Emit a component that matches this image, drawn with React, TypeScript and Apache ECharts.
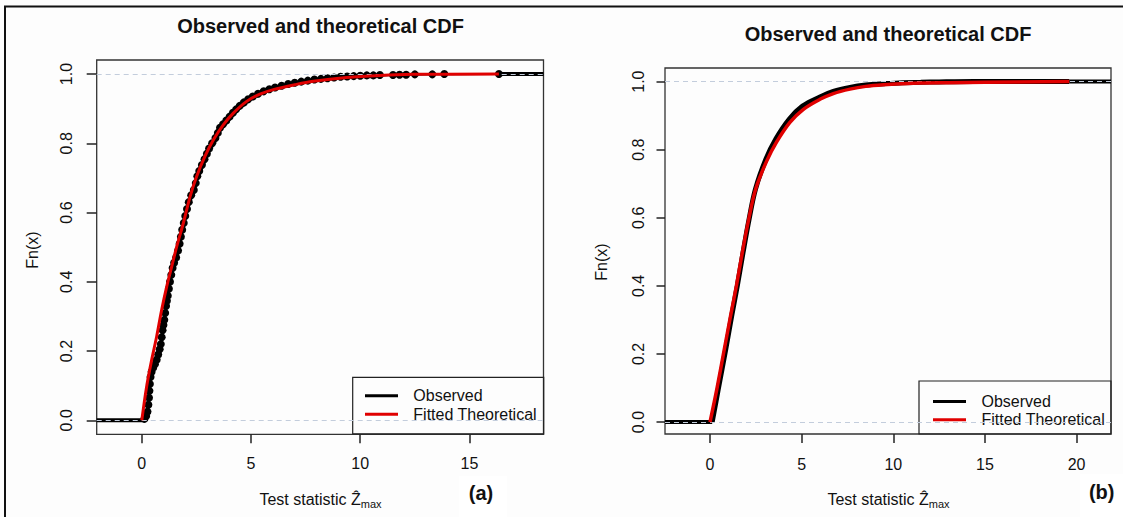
import React, { useEffect, useRef } from "react";
import * as echarts from "echarts";

// ---------- data ----------
const titleText = "Observed and theoretical CDF";
const legendNames = ["Observed", "Fitted Theoretical"];
const xTicksA = [0, 5, 10, 15];
const xTicksB = [0, 5, 10, 15, 20];
const yTicks = [0, 0.2, 0.4, 0.6, 0.8, 1.0];
const xRangeA = [-2.065, 18.39];
const yRangeA = [-0.0405, 1.0405];
const xRangeB = [-2.455, 21.88];
const yRangeB = [-0.035, 1.04];

// panel (a): empirical CDF points (x, Fn(x))
const observedA: [number, number][] = [
  [0.12, 0.004], [0.2, 0.012], [0.26, 0.025], [0.3, 0.045], [0.33, 0.065], [0.35, 0.085],
  [0.37, 0.105], [0.4, 0.125], [0.45, 0.14], [0.52, 0.152], [0.6, 0.162], [0.68, 0.175],
  [0.75, 0.19], [0.82, 0.205], [0.87, 0.22], [0.91, 0.24], [0.95, 0.26], [0.99, 0.275],
  [1.03, 0.29], [1.07, 0.31], [1.11, 0.33], [1.15, 0.345], [1.19, 0.36], [1.24, 0.38],
  [1.29, 0.4], [1.35, 0.42], [1.41, 0.44], [1.48, 0.455], [1.57, 0.47], [1.66, 0.49],
  [1.73, 0.51], [1.79, 0.53], [1.85, 0.55], [1.92, 0.57], [1.99, 0.59], [2.07, 0.61],
  [2.15, 0.63], [2.26, 0.65], [2.38, 0.665], [2.47, 0.685], [2.54, 0.705], [2.63, 0.72],
  [2.75, 0.737], [2.87, 0.754], [2.98, 0.77], [3.08, 0.785], [3.22, 0.8], [3.37, 0.815],
  [3.48, 0.83], [3.58, 0.845], [3.72, 0.855], [3.87, 0.866], [4.02, 0.877], [4.17, 0.888],
  [4.32, 0.898], [4.48, 0.908], [4.67, 0.918], [4.87, 0.927], [5.08, 0.935], [5.32, 0.943],
  [5.58, 0.95], [5.84, 0.956], [6.1, 0.961], [6.4, 0.966], [6.7, 0.971], [7.0, 0.975],
  [7.3, 0.978], [7.6, 0.981], [7.9, 0.984], [8.2, 0.986], [8.5, 0.988], [8.8, 0.99],
  [9.1, 0.992], [9.4, 0.993], [9.7, 0.994], [10.0, 0.995], [10.3, 0.996], [10.6, 0.996],
  [10.9, 0.997], [11.5, 0.997], [11.8, 0.998], [12.1, 0.998], [12.5, 0.999], [13.3, 0.999],
  [13.85, 1.0], [16.35, 1.0],
];
// panel (a): fitted theoretical CDF
const fittedA: [number, number][] = [
  [0, 0], [0.22, 0.097], [0.45, 0.174], [0.68, 0.242], [0.91, 0.319], [1.14, 0.386],
  [1.37, 0.444], [1.6, 0.502], [1.9, 0.569], [2.21, 0.646], [2.51, 0.704], [2.89, 0.762],
  [3.28, 0.81], [3.73, 0.853], [4.19, 0.887], [4.8, 0.921], [5.41, 0.942], [6.02, 0.955],
  [7.0, 0.969], [7.85, 0.979], [9.38, 0.99], [10.9, 0.996], [12.4, 0.999], [16.35, 1.0],
];
// panel (b): empirical CDF (dense sample, drawn as a line)
const observedB: [number, number][] = [
  [0.12, 0], [0.45, 0.096], [0.86, 0.214], [1.18, 0.311], [1.49, 0.4], [1.8, 0.497],
  [2.13, 0.595], [2.48, 0.684], [3.05, 0.772], [3.6, 0.832], [4.33, 0.89], [5.05, 0.928],
  [6.0, 0.955], [6.73, 0.971], [7.64, 0.983], [8.5, 0.99], [9.5, 0.994], [10.5, 0.997],
  [11.5, 0.998], [12.5, 0.999], [14.4, 1.0], [19.6, 1.0],
];
// panel (b): fitted theoretical CDF
const fittedB: [number, number][] = [
  [0, 0], [0.37, 0.096], [0.78, 0.214], [1.12, 0.311], [1.44, 0.4], [1.76, 0.497],
  [2.11, 0.595], [2.49, 0.684], [3.08, 0.765], [3.63, 0.822], [4.36, 0.88], [5.08, 0.918],
  [6.0, 0.948], [6.73, 0.965], [7.64, 0.978], [8.5, 0.986], [9.5, 0.991], [10.5, 0.994],
  [11.5, 0.996], [13, 0.997], [15, 0.998], [19.6, 1.0],
];

const FONT = "'Liberation Sans', Arial, Helvetica, 'DejaVu Sans', sans-serif";
const INK = "#111";
const RED = "#e00000";
const GREY_DASH = "#c3cddc";
const TICK = "#222";

function xAxisOf(gi: number, range: number[], ticks: number[], margin: number) {
  return {
    type: "value",
    gridIndex: gi,
    min: range[0],
    max: range[1],
    axisLine: { show: false, onZero: false },
    splitLine: { show: false },
    axisTick: { show: true, customValues: ticks, length: 9, lineStyle: { color: TICK, width: 1.5 } },
    axisLabel: { customValues: ticks, fontSize: 16, color: INK, fontFamily: FONT, margin },
  };
}
function yAxisOf(gi: number, range: number[], tickLen: number, margin: number) {
  return {
    type: "value",
    gridIndex: gi,
    min: range[0],
    max: range[1],
    axisLine: { show: false, onZero: false },
    splitLine: { show: false },
    axisTick: { show: true, customValues: yTicks, length: tickLen, lineStyle: { color: TICK, width: 1.5 } },
    axisLabel: {
      customValues: yTicks,
      rotate: 90,
      fontSize: 16,
      color: INK,
      fontFamily: FONT,
      margin,
      formatter: (v: number) => v.toFixed(1),
    },
  };
}

function refLines(gi: number) {
  return {
    type: "line",
    xAxisIndex: gi,
    yAxisIndex: gi,
    data: [],
    z: 4,
    silent: true,
    markLine: {
      silent: true,
      symbol: "none",
      label: { show: false },
      lineStyle: { color: GREY_DASH, type: [5, 4], width: 1.2 },
      data: [{ yAxis: 0 }, { yAxis: 1 }],
    },
  };
}

function extensions(gi: number, xr: number[], obs: [number, number][], width: number) {
  const first = obs[0];
  const last = obs[obs.length - 1];
  const base = {
    type: "line",
    xAxisIndex: gi,
    yAxisIndex: gi,
    symbol: "none",
    silent: true,
    z: 2,
    lineStyle: { color: "#000", width },
  };
  return [
    { ...base, data: [[xr[0], 0], [first[0], 0]] },
    { ...base, data: [[last[0], 1], [xr[1], 1]] },
  ];
}

function legendBox(x: number, y: number, w: number, h: number, lineX: number, textX: number, rows: number[]) {
  return {
    type: "group",
    children: [
      { type: "rect", shape: { x, y, width: w, height: h }, style: { fill: "none", stroke: "#222", lineWidth: 1.2 } },
      { type: "line", shape: { x1: lineX, y1: rows[0], x2: lineX + 33, y2: rows[0] }, style: { stroke: "#000", lineWidth: 3 } },
      { type: "line", shape: { x1: lineX, y1: rows[1], x2: lineX + 33, y2: rows[1] }, style: { stroke: RED, lineWidth: 3 } },
      { type: "text", x: textX, y: rows[0], style: { text: legendNames[0], font: `16px ${FONT}`, fill: INK, textAlign: "left", textVerticalAlign: "middle" } },
      { type: "text", x: textX, y: rows[1], style: { text: legendNames[1], font: `16px ${FONT}`, fill: INK, textAlign: "left", textVerticalAlign: "middle" } },
    ],
  };
}

function xLabel(cx: number, cy: number) {
  return {
    type: "text",
    x: cx,
    y: cy,
    style: {
      text: "Test statistic {z|Ẑ}{m|max}",
      font: `16px ${FONT}`,
      fill: INK,
      textAlign: "center",
      textVerticalAlign: "middle",
      rich: {
        z: { fontSize: 16, fontFamily: FONT, fill: INK },
        m: { fontSize: 11, fontFamily: FONT, fill: INK, padding: [10, 0, 0, 0] },
      },
    },
  };
}

export default function App() {
  const ref = useRef<HTMLDivElement>(null);
  useEffect(() => {
    if (!ref.current) return;
    const chart = echarts.init(ref.current, undefined, { renderer: "svg" });
    const option = {
      animation: false,
      backgroundColor: "#fdfdfd",
      grid: [
        { left: 96.7, top: 60, width: 446.8, height: 374.3, show: true, borderColor: "#333", borderWidth: 1.3, backgroundColor: "transparent" },
        { left: 665, top: 68, width: 446, height: 366, show: true, borderColor: "#333", borderWidth: 1.3, backgroundColor: "transparent" },
      ],
      xAxis: [xAxisOf(0, xRangeA, xTicksA, 21), xAxisOf(1, xRangeB, xTicksB, 22)],
      yAxis: [yAxisOf(0, yRangeA, 10, 22), yAxisOf(1, yRangeB, 8.5, 19)],
      series: [
        ...extensions(0, xRangeA, observedA, 4),
        {
          name: legendNames[0],
          type: "line",
          xAxisIndex: 0,
          yAxisIndex: 0,
          step: "end",
          data: observedA,
          symbol: "circle",
          symbolSize: 8,
          showSymbol: true,
          itemStyle: { color: "#000" },
          lineStyle: { color: "#000", width: 2 },
          z: 3,
        },
        refLines(0),
        {
          name: legendNames[1],
          type: "line",
          xAxisIndex: 0,
          yAxisIndex: 0,
          data: fittedA,
          smooth: 0.35,
          symbol: "none",
          lineStyle: { color: RED, width: 3 },
          z: 5,
        },
        ...extensions(1, xRangeB, observedB, 4),
        {
          name: legendNames[0],
          type: "line",
          xAxisIndex: 1,
          yAxisIndex: 1,
          data: observedB,
          smooth: 0.35,
          symbol: "none",
          lineStyle: { color: "#000", width: 5 },
          z: 3,
        },
        refLines(1),
        {
          name: legendNames[1],
          type: "line",
          xAxisIndex: 1,
          yAxisIndex: 1,
          data: fittedB,
          smooth: 0.35,
          symbol: "none",
          lineStyle: { color: RED, width: 3.5 },
          z: 5,
        },
      ],
      graphic: [
        { type: "line", shape: { x1: 4, y1: 6.5, x2: 1123, y2: 6.5 }, style: { stroke: "#111", lineWidth: 2 } },
        { type: "line", shape: { x1: 5, y1: 6, x2: 5, y2: 517 }, style: { stroke: "#111", lineWidth: 2 } },
        { type: "text", x: 320.5, y: 26, style: { text: titleText, font: `bold 20px ${FONT}`, fill: INK, textAlign: "center", textVerticalAlign: "middle" } },
        { type: "text", x: 888, y: 34, style: { text: titleText, font: `bold 20px ${FONT}`, fill: INK, textAlign: "center", textVerticalAlign: "middle" } },
        { type: "text", x: 32.5, y: 250, rotation: Math.PI / 2, style: { text: "Fn(x)", font: `16px ${FONT}`, fill: INK, textAlign: "center", textVerticalAlign: "middle" } },
        { type: "text", x: 601, y: 262, rotation: Math.PI / 2, style: { text: "Fn(x)", font: `16px ${FONT}`, fill: INK, textAlign: "center", textVerticalAlign: "middle" } },
        xLabel(320.5, 499),
        xLabel(888.5, 499),
        { type: "rect", shape: { x: 459, y: 476, width: 48, height: 41 }, style: { fill: "#ffffff" } },
        { type: "text", x: 481, y: 493, style: { text: "(a)", font: `bold 20px ${FONT}`, fill: INK, textAlign: "center", textVerticalAlign: "middle" } },
        { type: "rect", shape: { x: 1080, y: 474, width: 43, height: 43 }, style: { fill: "#ffffff" } },
        { type: "text", x: 1101.7, y: 491.7, style: { text: "(b)", font: `bold 20px ${FONT}`, fill: INK, textAlign: "center", textVerticalAlign: "middle" } },
        legendBox(352.7, 377.3, 191, 56.5, 365, 413.3, [395.7, 414.3]),
        legendBox(919, 381, 192, 53, 933, 981.5, [401.5, 419.8]),
      ],
    };
    chart.setOption(option as any);
    return () => chart.dispose();
  }, []);
  return (
    <div
      ref={ref}
      style={{ position: "fixed", left: 0, top: 0, width: 1123, height: 517 }}
    />
  );
}
